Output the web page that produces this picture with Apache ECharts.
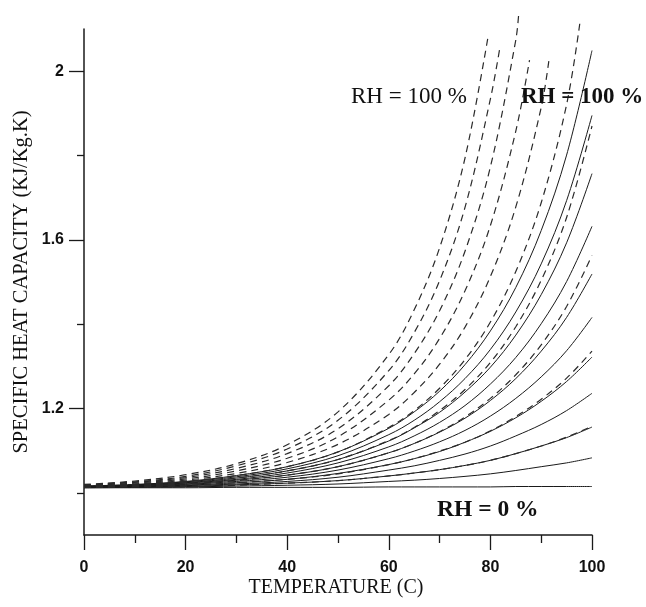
<!DOCTYPE html>
<html>
<head>
<meta charset="utf-8">
<script src="https://cdn.jsdelivr.net/npm/echarts@6/dist/echarts.min.js"></script>
<style>
html,body{margin:0;padding:0;background:#fff;}
#chart{width:646px;height:607px;}
</style>
</head>
<body>
<div id="chart"></div>
<script>
// ---- data ----
const temperature = [0,10,20,30,40,50,60,65,70,75,80,85,90,95,100];

// solid family (RH 100 % ... 0 %)
const solid100 = [1.016,1.020,1.027,1.041,1.062,1.097,1.153,1.192,1.241,1.304,1.384,1.487,1.622,1.801,2.049];
const solid90  = [1.016,1.019,1.026,1.038,1.057,1.088,1.138,1.172,1.216,1.271,1.340,1.429,1.543,1.693,1.895];
const solid80  = [1.015,1.018,1.024,1.035,1.052,1.079,1.123,1.154,1.191,1.239,1.298,1.374,1.470,1.593,1.757];
const solid70  = [1.015,1.018,1.023,1.032,1.047,1.071,1.109,1.135,1.167,1.207,1.258,1.321,1.401,1.501,1.632];
const solid60  = [1.014,1.017,1.021,1.030,1.042,1.062,1.095,1.117,1.144,1.177,1.219,1.271,1.336,1.416,1.519];
const solid50  = [1.014,1.016,1.020,1.027,1.037,1.054,1.081,1.099,1.121,1.148,1.182,1.224,1.275,1.337,1.416];
const solid40  = [1.014,1.015,1.018,1.024,1.032,1.046,1.067,1.081,1.098,1.120,1.146,1.178,1.217,1.264,1.322];
const solid30  = [1.013,1.014,1.017,1.021,1.027,1.037,1.054,1.064,1.077,1.092,1.111,1.135,1.162,1.195,1.236];
const solid20  = [1.013,1.014,1.015,1.019,1.023,1.029,1.040,1.047,1.055,1.065,1.077,1.093,1.111,1.131,1.156];
const solid10  = [1.012,1.013,1.014,1.016,1.018,1.021,1.027,1.030,1.034,1.039,1.045,1.053,1.062,1.071,1.083];
const solid0   = [1.012,1.012,1.012,1.013,1.013,1.013,1.014,1.014,1.014,1.014,1.014,1.015,1.015,1.015,1.015];

// dashed family (RH 100 % ... 10 %), values on the temperature grid up to where each curve stops
const dashed100 = [1.020,1.028,1.043,1.069,1.114,1.192,1.328,1.434,1.581,1.794];
const dashed90  = [1.019,1.026,1.039,1.064,1.104,1.172,1.290,1.380,1.503,1.677,1.934];
const dashed80  = [1.018,1.025,1.036,1.058,1.093,1.152,1.254,1.330,1.432,1.573,1.773,2.074];
const dashed70  = [1.017,1.023,1.033,1.052,1.082,1.133,1.220,1.282,1.366,1.479,1.634,1.858];
const dashed60  = [1.017,1.021,1.030,1.046,1.072,1.115,1.186,1.238,1.305,1.393,1.513,1.678,1.914];
const dashed50  = [1.016,1.020,1.027,1.041,1.062,1.097,1.155,1.195,1.248,1.316,1.405,1.525,1.688,1.921];
const dashed40  = [1.015,1.018,1.024,1.035,1.052,1.079,1.124,1.155,1.195,1.245,1.309,1.394,1.504,1.653,1.870];
const dashed30  = [1.014,1.017,1.021,1.029,1.042,1.062,1.095,1.117,1.145,1.180,1.224,1.280,1.351,1.442,1.563];
const dashed20  = [1.014,1.015,1.018,1.024,1.032,1.045,1.067,1.081,1.099,1.120,1.147,1.181,1.222,1.272,1.336];
const dashed10  = [1.013,1.014,1.015,1.018,1.023,1.029,1.040,1.047,1.055,1.065,1.077,1.093,1.111,1.132,1.158];
// last point of each dashed curve that stops before 100 C
const dashedEndT  = [79.5, 81.8, 85.6, 87.7, 91.5, 97.7];
const dashedEndCp = [2.079, 2.051, 2.140, 2.026, 2.024, 2.122];

// tick labels
const xTickLabels = [0,20,40,60,80,100];
const yTickLabels = [1.2,1.6,2.0];
const yMinorTicks = [1.0,1.4,1.8];

// ---- build ----
function pairs(vals){ return vals.map((v,i)=>[temperature[i], v]); }
const solidSets = [solid100,solid90,solid80,solid70,solid60,solid50,solid40,solid30,solid20,solid10,solid0];
const dashedSets = [dashed100,dashed90,dashed80,dashed70,dashed60,dashed50,dashed40,dashed30,dashed20,dashed10];

const series = [];
solidSets.forEach((s,i)=>{
  series.push({
    type:'line', data:pairs(s), showSymbol:false, smooth:0.35,
    clip:false, silent:true,
    lineStyle:{color:'#1a1a1a', width:1}
  });
});
dashedSets.forEach((s,i)=>{
  const d = pairs(s);
  if (i < dashedEndT.length) d.push([dashedEndT[i], dashedEndCp[i]]);
  series.push({
    type:'line', data:d, showSymbol:false, smooth:0.35,
    clip:false, silent:true,
    lineStyle:{color:'#2a2a2a', width:1.2, type:[7,5]}
  });
});

const chart = echarts.init(document.getElementById('chart'), null, {renderer:'canvas'});
const axisCol = '#1a1a1a';
const tickFont = 'Liberation Sans, Arial, sans-serif';
chart.setOption({
  animation:false,
  backgroundColor:'#ffffff',
  grid:{left:84, right:54, top:29, bottom:72, containLabel:false},
  xAxis:{
    type:'value', min:0, max:100, interval:20,
    axisLine:{show:true, lineStyle:{color:axisCol, width:1.5}},
    axisTick:{show:true, length:15, lineStyle:{color:axisCol, width:1.3}, customValues:xTickLabels},
    minorTick:{show:true, splitNumber:2, length:8, lineStyle:{color:axisCol, width:1.3}},
    axisLabel:{margin:25, color:'#111', fontSize:16, fontWeight:'bold', fontFamily:tickFont, customValues:xTickLabels},
    splitLine:{show:false}
  },
  yAxis:[{
    type:'value', min:0.9, max:2.1,
    axisLine:{show:true, lineStyle:{color:axisCol, width:1.5}},
    axisTick:{show:true, length:15, lineStyle:{color:axisCol, width:1.3}, customValues:yTickLabels},
    axisLabel:{margin:20, color:'#111', fontSize:16, fontWeight:'bold', fontFamily:tickFont,
      customValues:yTickLabels, formatter:v=>String(+v.toFixed(1))},
    splitLine:{show:false}
  },{
    type:'value', min:0.9, max:2.1, position:'left',
    axisLine:{show:false},
    axisTick:{show:true, length:7, lineStyle:{color:axisCol, width:1.3}, customValues:yMinorTicks},
    axisLabel:{show:false},
    splitLine:{show:false}
  }],
  graphic:[
    {type:'text', x:336, y:588, style:{text:'TEMPERATURE (C)', fill:'#111', font:'20px "Liberation Serif", "Times New Roman", serif', textAlign:'center', textVerticalAlign:'middle'}},
    {type:'text', x:22, y:282, rotation:Math.PI/2, style:{text:'SPECIFIC HEAT CAPACITY (KJ/Kg.K)', fill:'#111', font:'20.5px "Liberation Serif", "Times New Roman", serif', textAlign:'center', textVerticalAlign:'middle'}},
    {type:'text', x:351, y:97, style:{text:'RH = 100 %', fill:'#111', font:'23px "Liberation Serif", "Times New Roman", serif', textAlign:'left', textVerticalAlign:'middle'}},
    {type:'text', x:521, y:97, z:10, style:{text:'RH = 100 %', fill:'#111', font:'bold 23px "Liberation Serif", "Times New Roman", serif', textAlign:'left', textVerticalAlign:'middle'}},
    {type:'text', x:437, y:510, style:{text:'RH = 0 %', fill:'#111', font:'bold 23.5px "Liberation Serif", "Times New Roman", serif', textAlign:'left', textVerticalAlign:'middle'}}
  ],
  series:series
});
</script>
</body>
</html>
